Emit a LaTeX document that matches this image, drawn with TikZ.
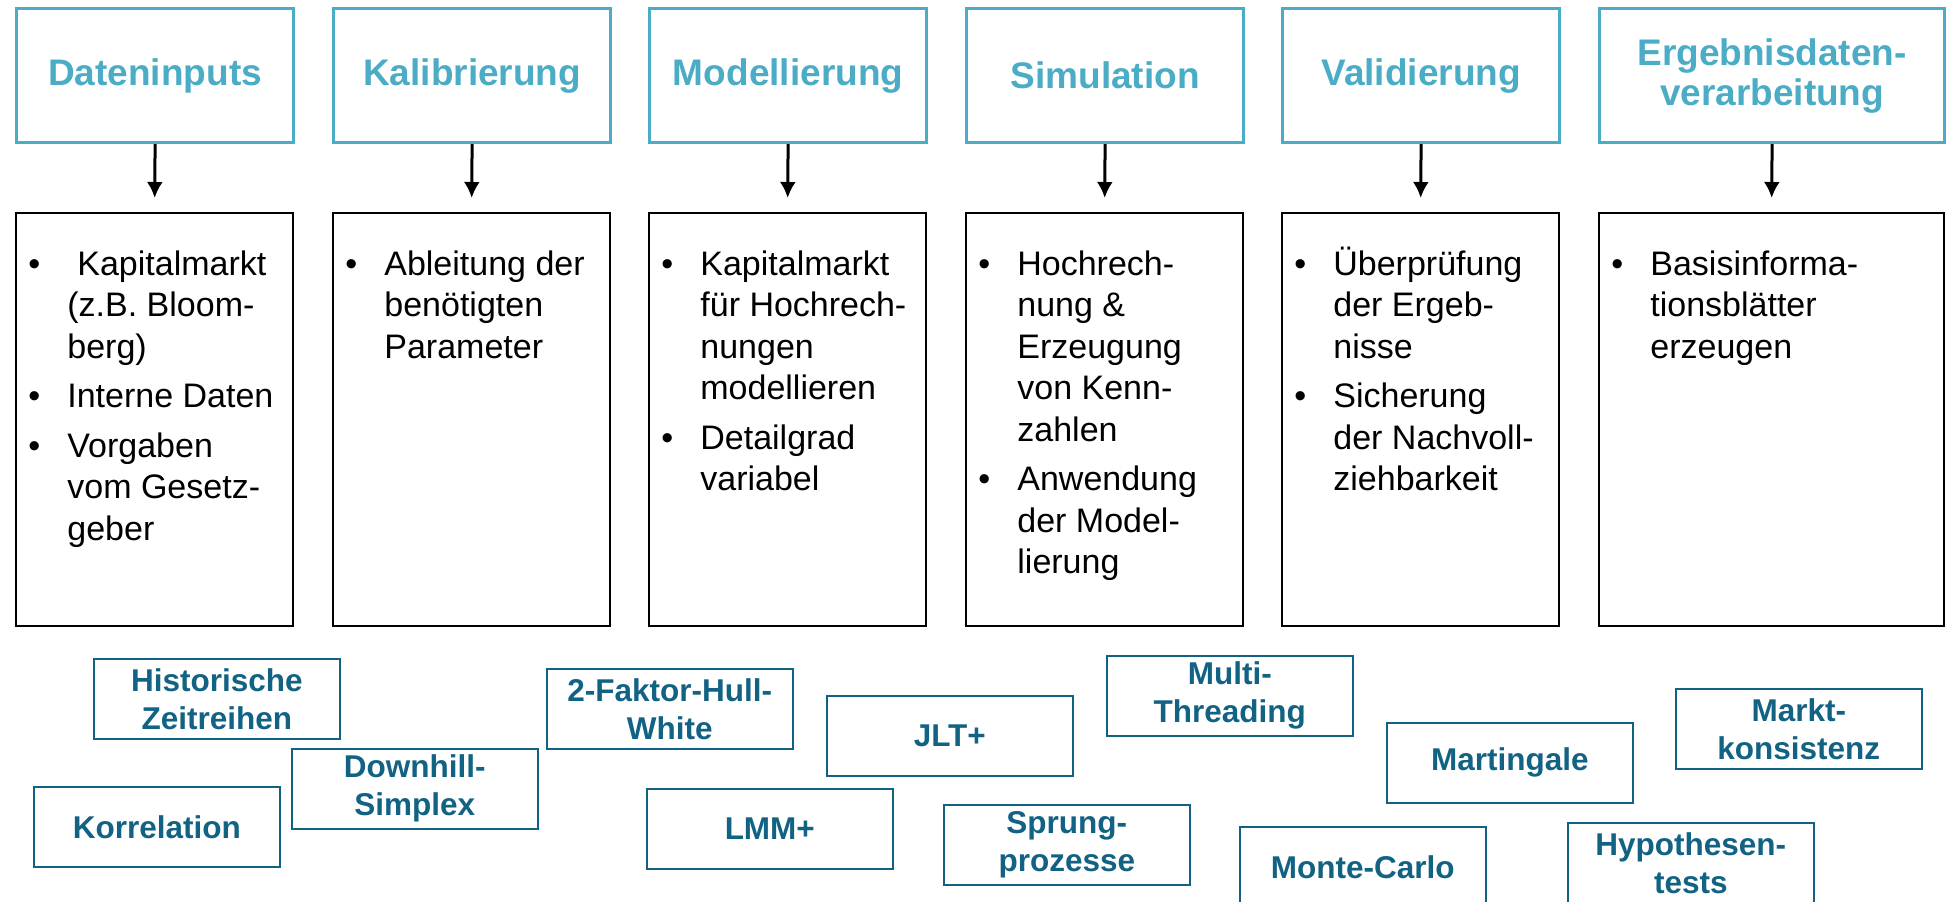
\documentclass[tikz,border=0pt]{standalone}
\usepackage{fontspec}
\setmainfont{Liberation Sans}
\usetikzlibrary{arrows.meta}
\definecolor{hdr}{RGB}{75,172,198}
\definecolor{tagc}{RGB}{18,98,132}
\newcommand{\blist}[1]{\begin{tabular}[t]{@{}p{19.5pt}@{}l@{}}#1\end{tabular}}
\begin{document}
\begin{tikzpicture}[x=0.5pt,y=-0.5pt,
  hdrbox/.style={draw=hdr,line width=1.6pt,minimum width=138.5pt,minimum height=67pt,inner sep=0pt,anchor=north west,text=hdr,font=\fontsize{18.5}{20}\selectfont\bfseries,align=center},
  bodybox/.style={draw=black,line width=1.1pt,minimum width=138.5pt,minimum height=206.5pt,inner sep=0pt,anchor=north west},
  bodytext/.style={anchor=base west,inner sep=0pt,font=\fontsize{17}{20.75}\selectfont},
  tagbox/.style={draw=tagc,line width=0.8pt,minimum width=123pt,minimum height=40pt,inner sep=0pt,anchor=north west,text=tagc,font=\fontsize{15.75}{19}\selectfont\bfseries,align=center},
  flow/.style={-{Latex[length=8pt,width=8pt]},line width=1.5pt,shorten >=7pt}
]
\useasboundingbox (0,0) rectangle (1949,901);
\clip (0,0) rectangle (1949,901);
% header boxes
\node[hdrbox] (h1) at (15,7) {Dateninputs};
\node[hdrbox] (h2) at (332,7) {Kalibrierung};
\node[hdrbox] (h3) at (648,7) {Modellierung};
\node[hdrbox] (h4) at (965,7) {Simulation};
\node[hdrbox] (h5) at (1281,7) {Validierung};
\node[hdrbox,minimum width=172.5pt] (h6) at (1598,7) {Ergebnisdaten-\\verarbeitung};
% body boxes
\node[bodybox] (b1) at (15,212) {};
\node[bodybox] (b2) at (332,212) {};
\node[bodybox] (b3) at (648,212) {};
\node[bodybox] (b4) at (965,212) {};
\node[bodybox] (b5) at (1281,212) {};
\node[bodybox,minimum width=172.5pt] (b6) at (1598,212) {};
% arrows
\foreach \i in {1,...,6} \draw[flow] (h\i.south) -- (b\i.north);
% body texts
\node[bodytext] (t1) at (28,275) {\blist{%
\textbullet & \hspace{5pt}Kapitalmarkt\\ & (z.B. Bloom-\\ & berg)\\[4pt]
\textbullet & Interne Daten\\[4pt]
\textbullet & Vorgaben\\ & vom Gesetz-\\ & geber}};
\node[bodytext] (t2) at (345,275) {\blist{%
\textbullet & Ableitung der\\ & benötigten\\ & Parameter}};
\node[bodytext] (t3) at (661,275) {\blist{%
\textbullet & Kapitalmarkt\\ & für Hochrech-\\ & nungen\\ & modellieren\\[4pt]
\textbullet & Detailgrad\\ & variabel}};
\node[bodytext] (t4) at (978,275) {\blist{%
\textbullet & Hochrech-\\ & nung \&\\ & Erzeugung\\ & von Kenn-\\ & zahlen\\[4pt]
\textbullet & Anwendung\\ & der Model-\\ & lierung}};
\node[bodytext] (t5) at (1294,275) {\blist{%
\textbullet & Überprüfung\\ & der Ergeb-\\ & nisse\\[4pt]
\textbullet & Sicherung\\ & der Nachvoll-\\ & ziehbarkeit}};
\node[bodytext] (t6) at (1611,275) {\blist{%
\textbullet & Basisinforma-\\ & tionsblätter\\ & erzeugen}};
% tags
\node[tagbox] (k1) at (93,658) {Historische\\Zeitreihen};
\node[tagbox] (k2) at (291,748) {Downhill-\\Simplex};
\node[tagbox] (k3) at (33,786) {Korrelation};
\node[tagbox] (k4) at (546,668) {2-Faktor-Hull-\\White};
\node[tagbox] (k5) at (646,788) {LMM+};
\node[tagbox] (k6) at (826,695) {JLT+};
\node[tagbox] (k7) at (943,804) {Sprung-\\prozesse};
\node[tagbox] (k8) at (1106,655) {Multi-\\Threading};
\node[tagbox] (k9) at (1239,826) {Monte-Carlo};
\node[tagbox] (k10) at (1386,722) {Martingale};
\node[tagbox] (k11) at (1675,688) {Markt-\\konsistenz};
\node[tagbox] (k12) at (1567,822) {Hypothesen-\\tests};
\end{tikzpicture}
\end{document}
